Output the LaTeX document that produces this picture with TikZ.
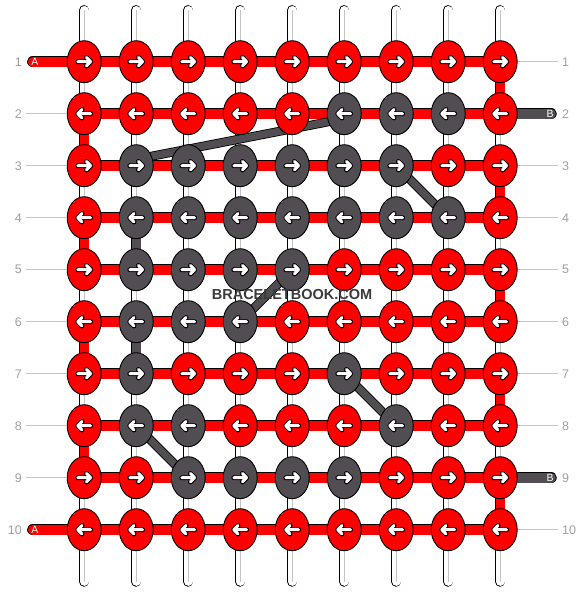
\documentclass[tikz,border=0pt]{standalone}
\usepackage{fontspec}
\setmainfont{Liberation Sans}
\usetikzlibrary{shapes.geometric,calc}
\definecolor{kred}{HTML}{FF0000}
\definecolor{kdark}{HTML}{524D52}
\definecolor{lblgray}{HTML}{A0A0A0}
\definecolor{linegray}{HTML}{C4C4C4}
\definecolor{wmgray}{HTML}{3A3A3A}
\newcommand\knotarrow[2]{%
  \begin{scope}[shift={(#1)}, xscale=#2]
    \draw[arrowout] (-6.4,0) -- (6.4,0) (2.2,-4.2) -- (6.4,0) -- (2.2,4.2);
    \draw[arrowin]  (-6.4,0) -- (6.4,0) (2.2,-4.2) -- (6.4,0) -- (2.2,4.2);
  \end{scope}}
\begin{document}
\begin{tikzpicture}[x=1pt,y=-1pt,
  knot/.style={ellipse, draw=black, line width=0.9pt, minimum width=34pt, minimum height=42pt, inner sep=0pt},
  k0/.style={fill=kred}, k1/.style={fill=kdark},
  arrowout/.style={line width=4.9pt, black, line cap=round, line join=round},
  arrowin/.style={line width=3.0pt, white, line cap=round, line join=round},
  strandout/.style={line width=10.5pt, black, line cap=round},
  strandin/.style={line width=8.7pt, white, line cap=round},
  strandmid/.style={line width=0.9pt, linegray},
  barout/.style={line width=11.5pt, black},
  redbar/.style={line width=9.7pt, kred},
  darkbar/.style={line width=9.7pt, kdark},
  vout/.style={line width=10.5pt, black},
  vred/.style={line width=8.7pt, kred},
  vdark/.style={line width=8.7pt, kdark},
  dout/.style={line width=9pt, black},
  din/.style={line width=7.4pt, kdark},
  lbl/.style={text=lblgray, font=\fontsize{12.5}{13}\selectfont, inner sep=0pt},
  guide/.style={draw=linegray, line width=0.9pt},
  endlbl/.style={text=white, font=\fontsize{10.5}{11}\selectfont, inner sep=0pt},
  wm/.style={font=\fontsize{14.5}{15}\selectfont\bfseries, inner sep=0pt}
]
\useasboundingbox (0,0) rectangle (584,592);
\fill[white] (0,0) rectangle (584,592);
% grid coordinates
\foreach \r in {1,...,10}{
  \foreach \i in {1,...,9}{
    \coordinate (p\r-\i) at ({84.2+52*(\i-1)},{61.7+52*(\r-1)});
  }
}
% vertical strands
\foreach \i in {1,...,9}{
  \coordinate (top\i) at ({84.2+52*(\i-1)},10.3);
  \coordinate (bot\i) at ({84.2+52*(\i-1)},581.5);
  \draw[strandout] (top\i) -- (bot\i);
  \draw[strandin] (top\i) -- (bot\i);
  \draw[strandmid] (top\i) -- (bot\i);
}
% horizontal red bars
\foreach \r in {1,...,10}{
  \draw[barout] (p\r-1) -- (p\r-9);
  \draw[redbar] (p\r-1) -- (p\r-9);
}
% A and B thread ends
\coordinate (A1) at (32.8,61.7);
\coordinate (A10) at (32.8,529.7);
\coordinate (B2) at (551,113.7);
\coordinate (B9) at (551,477.7);
\foreach \a/\b in {A1/p1-1, A10/p10-1}{
  \draw[barout, line cap=round] (\a) -- (\b);
  \draw[redbar, line cap=round] (\a) -- (\b);
}
\foreach \a/\b in {B2/p2-9, B9/p9-9}{
  \draw[barout, line cap=round] (\a) -- (\b);
  \draw[darkbar, line cap=round] (\a) -- (\b);
}
% red edge verticals
\foreach \a/\b in {p2-1/p3-1, p4-1/p5-1, p6-1/p7-1, p8-1/p9-1,
                   p1-9/p2-9, p3-9/p4-9, p5-9/p6-9, p7-9/p8-9, p9-9/p10-9}{
  \draw[vout] (\a) -- (\b);
  \draw[vred] (\a) -- (\b);
}
% dark verticals
\foreach \a/\b in {p4-2/p5-2, p6-2/p7-2}{
  \draw[vout] (\a) -- (\b);
  \draw[vdark] (\a) -- (\b);
}
% dark diagonals
\coordinate (d1a) at ($(p2-6)+(0,5)$);
\coordinate (d1b) at ($(p3-2)+(0,-6.5)$);
\draw[dout] (d1a) -- (d1b);
\draw[din] (d1a) -- (d1b);
\foreach \a/\b in {p3-7/p4-8, p6-4/p5-5, p7-6/p8-7, p8-2/p9-3}{
  \draw[dout] (\a) -- (\b);
  \draw[din] (\a) -- (\b);
}
% knots
\foreach \r/\cl in {1/{0,0,0,0,0,0,0,0,0}, 2/{0,0,0,0,0,1,1,1,0},
                    3/{0,1,1,1,1,1,1,0,0}, 4/{0,1,1,1,1,1,1,1,0},
                    5/{0,1,1,1,1,0,0,0,0}, 6/{0,1,1,1,0,0,0,0,0},
                    7/{0,1,0,0,0,1,0,0,0}, 8/{0,1,1,0,0,0,1,0,0},
                    9/{0,0,1,1,1,1,0,0,0}, 10/{0,0,0,0,0,0,0,0,0}}{
  \pgfmathtruncatemacro\dir{mod(\r,2)==1 ? 1 : -1}
  \foreach \c [count=\i] in \cl {
    \node[knot, k\c] (n\r-\i) at (p\r-\i) {};
    \knotarrow{n\r-\i}{\dir}
  }
}
% end labels
\node[endlbl] (la1) at (35,62.2) {A};
\node[endlbl] (la10) at (35,530.2) {A};
\node[endlbl] (lb2) at (550,114.2) {B};
\node[endlbl] (lb9) at (550,478.2) {B};
% row labels
\foreach \r in {1,...,10}{
  \node[lbl, anchor=east] (L\r) at (22,{61.7+52*(\r-1)}) {\r};
  \node[lbl, anchor=west] (R\r) at (562,{61.7+52*(\r-1)}) {\r};
}
\foreach \r in {2,...,9}{
  \coordinate (gl\r) at (26,{61.7+52*(\r-1)});
  \draw[guide] (gl\r) -- (n\r-1.west);
}
\foreach \r in {1,3,4,5,6,7,8,10}{
  \coordinate (gr\r) at (558,{61.7+52*(\r-1)});
  \draw[guide] (n\r-9.east) -- (gr\r);
}
% watermark
\node[wm, text=wmgray] (wm) at (292,295) {BRACELETBOOK.COM};
\end{tikzpicture}
\end{document}
